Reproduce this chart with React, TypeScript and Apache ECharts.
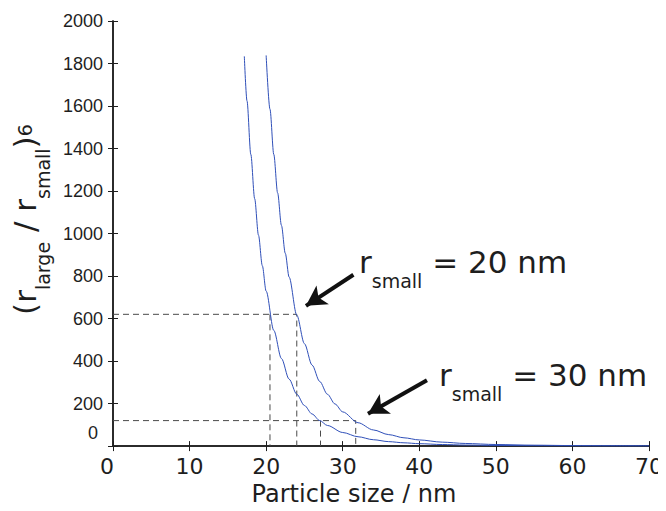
import React, { useEffect, useRef } from "react";
import * as echarts from "echarts";

// Particle sizes (nm) and ratio values for the two curves
const leftSizes = [17.15, 17.5, 18, 18.5, 19, 19.5, 20, 21, 22, 23, 24, 25, 26, 27, 28, 30, 32, 34, 36, 38, 40, 43, 46, 50, 55, 60, 65, 70];
const leftRatios = [1834, 1624, 1372, 1164, 992, 849, 729, 544, 412, 315, 244, 191, 151, 120, 97, 64, 44, 30, 21, 15.5, 11.4, 7.4, 4.9, 3.0, 1.7, 1.0, 0.6, 0.4];

const rightSizes = [20, 20.5, 21, 21.5, 22, 22.5, 23, 24, 25, 26, 27, 28, 29, 30, 32, 34, 36, 38, 40, 43, 46, 50, 55, 60, 65, 70];
const rightRatios = [1838, 1585, 1372, 1191, 1038, 907, 795, 616, 482, 381, 304, 244, 198, 161, 110, 76, 54, 39, 29, 18.6, 12.4, 7.5, 4.3, 2.5, 1.6, 1.0];

// Dashed read-off guides: [size, ratio] polylines
const guideUpperA = [[0, 620], [24, 620], [24, 0]];
const guideUpperB = [[20.5, 620], [20.5, 0]];
const guideLowerA = [[0, 120], [31.7, 120], [31.7, 0]];
const guideLowerB = [[27.1, 120], [27.1, 0]];

// Annotation arrows (tail -> head) in data units
const arrow20 = [[31.4, 806], [25.2, 660]];
const arrow30 = [[41.0, 310], [33.3, 152]];

const xTicks = { min: 0, max: 70, interval: 10 };
const yTicks = { min: 0, max: 2000, interval: 200 };

const SANS = "DejaVu Sans";
const HELV = "Liberation Sans";
const INK = "#1e1e1e";
const BLUE = "#2f4fb8";

const pair = (xs: number[], ys: number[]) => xs.map((x, i) => [x, ys[i]]);

export default function App() {
  const ref = useRef<HTMLDivElement>(null);

  useEffect(() => {
    if (!ref.current) return;
    const chart = echarts.init(ref.current, null, { renderer: "svg" });

    const guide = (data: number[][]) => ({
      type: "line",
      data,
      symbol: "none",
      silent: true,
      lineStyle: { color: "#4a4a4a", width: 1, type: [6, 4] },
      z: 1,
    });

    const arrowLine = (pts: number[][]) => [
      { coord: pts[0], symbol: "none" },
      { coord: pts[1], symbol: "arrow" },
    ];

    const annotation = (value: string, x: number, y: number) => ({
      type: "text",
      x,
      y,
      style: {
        text: `{m|r}{s|small}{m| = ${value}}`,
        fill: INK,
        rich: {
          m: { fontFamily: SANS, fontSize: 31, lineHeight: 56, verticalAlign: "middle", fill: INK },
          s: { fontFamily: SANS, fontSize: 19, lineHeight: 56, verticalAlign: "bottom", fill: INK },
        },
      },
    });

    const hiddenAxisCommon = {
      axisLine: { show: true, lineStyle: { color: INK, width: 1.5 } },
      axisTick: { show: true, inside: true, length: 5, lineStyle: { color: INK, width: 1 } },
      axisLabel: { show: false },
      splitLine: { show: false },
    };

    chart.setOption({
      animation: false,
      grid: { left: 113, right: 12, top: 21, bottom: 63 },
      xAxis: [
        {
          type: "value",
          ...xTicks,
          name: "Particle size / nm",
          nameLocation: "middle",
          nameGap: 33,
          nameTextStyle: { fontFamily: SANS, fontSize: 24, color: INK, padding: [0, 54, 0, 0] },
          axisLine: { show: true, onZero: false, lineStyle: { color: INK, width: 1.5 } },
          axisTick: { show: true, inside: true, length: 5, lineStyle: { color: INK, width: 1 } },
          axisLabel: {
            fontFamily: SANS,
            fontSize: 22,
            color: INK,
            margin: 9,
            formatter: (v: number) => (v === 0 ? "{z|0}" : String(v)),
            rich: { z: { fontFamily: SANS, fontSize: 22, color: INK, padding: [0, 12, 0, 0] } },
          },
          splitLine: { show: false },
        },
        { type: "value", position: "top", ...xTicks, ...hiddenAxisCommon },
      ],
      yAxis: [
        {
          type: "value",
          ...yTicks,
          name: "{m|(r}{s|large}{m| / r}{s|small}{m|)}{p|6}",
          nameLocation: "middle",
          nameGap: 54,
          nameRotate: 90,
          nameTextStyle: {
            color: INK,
            padding: [0, 0, 0, 28],
            rich: {
              m: { fontFamily: SANS, fontSize: 31, lineHeight: 54, verticalAlign: "middle", color: INK },
              s: { fontFamily: SANS, fontSize: 19, lineHeight: 54, verticalAlign: "bottom", color: INK },
              p: { fontFamily: SANS, fontSize: 19, lineHeight: 54, verticalAlign: "middle", color: INK },
            },
          },
          axisLine: { show: true, onZero: false, lineStyle: { color: INK, width: 1.5 } },
          axisTick: { show: true, inside: true, length: 5, lineStyle: { color: INK, width: 1 } },
          axisLabel: {
            fontFamily: HELV,
            fontSize: 18,
            color: INK,
            margin: 10,
            formatter: (v: number) => (v === 0 ? "{z|0}" : String(v)),
            rich: { z: { fontFamily: HELV, fontSize: 18, color: INK, padding: [0, 5, 26, 0] } },
          },
          splitLine: { show: false },
        },
        { type: "value", position: "right", ...yTicks, ...hiddenAxisCommon },
      ],
      series: [
        guide(guideUpperA),
        guide(guideUpperB),
        guide(guideLowerA),
        {
          ...guide(guideLowerB),
          markLine: {
            silent: true,
            symbolSize: [17, 20],
            label: { show: false },
            lineStyle: { color: "#111", width: 4, type: "solid" },
            data: [arrowLine(arrow20), arrowLine(arrow30)],
          },
        },
        {
          type: "line",
          data: pair(leftSizes, leftRatios),
          symbol: "none",
          smooth: 0.3,
          smoothMonotone: "x",
          lineStyle: { color: BLUE, width: 1 },
          z: 3,
        },
        {
          type: "line",
          data: pair(rightSizes, rightRatios),
          symbol: "none",
          smooth: 0.3,
          smoothMonotone: "x",
          lineStyle: { color: BLUE, width: 1 },
          z: 3,
        },
      ],
      graphic: [annotation("20 nm", 359, 234), annotation("30 nm", 439, 347)],
    });

    return () => chart.dispose();
  }, []);

  return <div ref={ref} style={{ width: 666, height: 511, margin: -8 }} />;
}
